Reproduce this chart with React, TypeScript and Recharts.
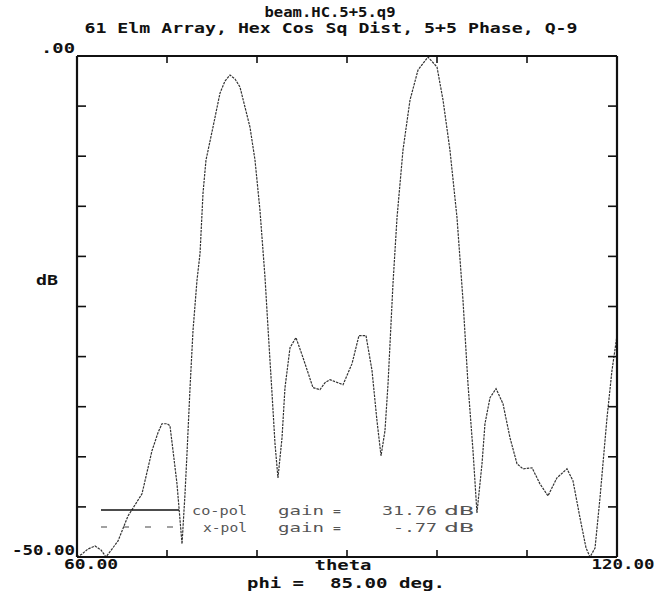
import React from 'react';
import { LineChart, Line, XAxis, YAxis } from 'recharts';

// theta (deg) and normalized co-pol pattern (dB)
const thetaDeg = [
  60.0, 60.56, 61.22, 62.0, 62.67, 63.22, 64.56, 65.67, 67.22, 68.33, 69.0, 69.44, 70.0, 70.33,
  70.67, 71.11, 71.67, 72.0, 72.22, 72.56, 72.89, 73.33, 73.67, 74.0, 74.33, 75.11, 75.89, 76.44,
  77.0, 77.56, 78.11, 79.22, 79.78, 80.33, 80.89, 81.22, 81.67, 82.0, 82.33, 82.78, 83.11, 83.67,
  84.33, 85.11, 86.22, 87.0, 87.56, 88.11, 89.56, 90.56, 91.33, 92.11, 92.78, 93.33, 93.78, 94.22,
  94.56, 95.11, 95.56, 96.22, 97.0, 97.89, 99.0, 100.0, 100.67, 101.44, 102.22, 102.89, 103.44,
  104.0, 104.44, 105.0, 105.33, 105.89, 106.56, 107.33, 108.11, 108.89, 109.56, 110.56, 111.44,
  112.33, 113.33, 114.44, 115.11, 115.89, 116.56, 117.0, 117.56, 118.11, 118.44, 118.89, 119.44, 120.0,
];
const coPolDb = [
  -50, -49.7, -49.2, -48.9, -49.3, -50, -48.4, -45.9, -43.7, -39.4, -37.6, -36.7, -36.7, -36.9,
  -39.4, -42.7, -48.7, -43.7, -39.7, -33.1, -27.4, -22.4, -19.7, -13.7, -10.4, -7.1, -3.7, -2.5,
  -1.9, -2.3, -3.1, -7.1, -10.4, -15.4, -22.1, -27.1, -33.7, -38.7, -42.1, -38.1, -33.1, -29.1,
  -28.1, -30.1, -33.1, -33.3, -32.6, -32.3, -32.8, -30.7, -27.9, -27.9, -31.4, -36.4, -39.9, -37.4,
  -32.7, -22.7, -16.1, -9.4, -4.4, -1.4, -0.1, -1.1, -4.4, -9.4, -16.1, -24.4, -32.7,
  -39.4, -45.6, -40.7, -36.7, -34.1, -33.2, -34.7, -38.1, -40.7, -41.2, -41.1, -42.7,
  -43.9, -42.1, -41.2, -42.4, -46.1, -49.1, -50, -49.1, -44.1, -40.7, -36.1, -31.4, -27.9,
];

const xTicks = [60, 70, 80, 90, 100, 110, 120];
const yTicks = [0, -5, -10, -15, -20, -25, -30, -35, -40, -45, -50];

const data = thetaDeg.map((t, i) => ({ theta: t, co: coPolDb[i] }));

const ink = '#111';
const labelFont = '"DejaVu Sans Mono", monospace';

const BottomTick = (props: any) => {
  const { x, y, payload } = props;
  const v = payload.value;
  if (v === 60 || v === 120) {
    const label = v === 60 ? '60.00' : '120.00';
    const w = v === 60 ? 54 : 63;
    const cx = v === 60 ? x + 14 : x + 6;
    return (
      <text x={cx} y={y + 12} textAnchor="middle" fontFamily={labelFont} fontWeight="bold" fontSize={14}
        fill={ink} textLength={w} lengthAdjust="spacingAndGlyphs">{label}</text>
    );
  }
  return <line x1={x} y1={y} x2={x} y2={y - 7} stroke={ink} strokeWidth={1.6} />;
};

const TopTick = (props: any) => {
  const { x, y, payload } = props;
  if (payload.value === 60 || payload.value === 120) return null;
  return <line x1={x} y1={y} x2={x} y2={y + 7} stroke={ink} strokeWidth={1.6} />;
};

const LeftTick = (props: any) => {
  const { x, y, payload } = props;
  const v = payload.value;
  if (v === 0) {
    return (
      <text x={x - 2} y={y - 3} textAnchor="end" fontFamily={labelFont} fontWeight="bold" fontSize={14}
        fill={ink} textLength={34} lengthAdjust="spacingAndGlyphs">.00</text>
    );
  }
  if (v === -50) {
    return (
      <text x={x - 2} y={y - 2} textAnchor="end" fontFamily={labelFont} fontWeight="bold" fontSize={14}
        fill={ink} textLength={63} lengthAdjust="spacingAndGlyphs">-50.00</text>
    );
  }
  return <line x1={x} y1={y} x2={x + 9} y2={y} stroke={ink} strokeWidth={1.6} />;
};

const RightTick = (props: any) => {
  const { x, y, payload } = props;
  if (payload.value === 0 || payload.value === -50) return null;
  return <line x1={x} y1={y} x2={x - 9} y2={y} stroke={ink} strokeWidth={1.6} />;
};

export default function App() {
  return (
    <div style={{ position: 'absolute', left: 0, top: 0, width: 657, height: 597, background: '#fff' }}>
      <LineChart width={657} height={597} data={data} margin={{ top: 55, right: 39, bottom: 39, left: 76 }}>
        <XAxis xAxisId="b" dataKey="theta" type="number" domain={[60, 120]} ticks={xTicks} orientation="bottom"
          height={1} tickSize={0} tickMargin={0} interval={0} tick={<BottomTick />}
          axisLine={{ stroke: ink, strokeWidth: 2.2 }} tickLine={false} allowDataOverflow />
        <XAxis xAxisId="t" dataKey="theta" type="number" domain={[60, 120]} ticks={xTicks} orientation="top"
          height={1} tickSize={0} tickMargin={0} interval={0} tick={<TopTick />}
          axisLine={{ stroke: ink, strokeWidth: 2.2 }} tickLine={false} allowDataOverflow />
        <YAxis yAxisId="l" type="number" domain={[-50, 0]} ticks={yTicks} orientation="left" width={1}
          tickSize={0} tickMargin={0} interval={0} tick={<LeftTick />}
          axisLine={{ stroke: ink, strokeWidth: 2.2 }} tickLine={false} allowDataOverflow />
        <YAxis yAxisId="r" type="number" domain={[-50, 0]} ticks={yTicks} orientation="right" width={1}
          tickSize={0} tickMargin={0} interval={0} tick={<RightTick />}
          axisLine={{ stroke: ink, strokeWidth: 2.2 }} tickLine={false} allowDataOverflow />
        <Line xAxisId="t" yAxisId="r" dataKey="co" stroke="none" dot={false} isAnimationActive={false} legendType="none" />
        <Line xAxisId="b" yAxisId="l" type="linear" dataKey="co" stroke="#333" strokeWidth={1.2}
          strokeDasharray="2.5 1" dot={false} isAnimationActive={false} />
      </LineChart>
      <svg width={657} height={597} style={{ position: 'absolute', left: 0, top: 0, pointerEvents: 'none' }}>
        <g fontFamily={labelFont} fill={ink}>
          <text x={330} y={17} textAnchor="middle" fontSize={14} fontWeight="600" textLength={131} lengthAdjust="spacingAndGlyphs">beam.HC.5+5.q9</text>
          <text x={331} y={33} textAnchor="middle" fontSize={14} fontWeight="600" textLength={493} lengthAdjust="spacingAndGlyphs">61 Elm Array, Hex Cos Sq Dist, 5+5 Phase, Q-9</text>
          <text x={47} y={285} textAnchor="middle" fontSize={14} fontWeight="600" textLength={22} lengthAdjust="spacingAndGlyphs">dB</text>
          <text x={343} y={570} textAnchor="middle" fontSize={14} fontWeight="bold" textLength={57} lengthAdjust="spacingAndGlyphs">theta</text>
          <text x={247} y={588} fontSize={14} fontWeight="bold" textLength={57} lengthAdjust="spacingAndGlyphs">phi =</text>
          <text x={330} y={588} fontSize={14} fontWeight="bold" textLength={115} lengthAdjust="spacingAndGlyphs">85.00 deg.</text>
        </g>
        <line x1={101} y1={510} x2={179} y2={510} stroke={ink} strokeWidth={1.6} />
        <line x1={101} y1={527} x2={179} y2={527} stroke="#444" strokeWidth={1.2} strokeDasharray="6 16" />
        <g fontFamily={labelFont} fill="#555" fontSize={13}>
          <text x={192} y={515} textLength={55} lengthAdjust="spacingAndGlyphs">co-pol</text>
          <text x={278} y={515} textLength={46} lengthAdjust="spacingAndGlyphs">gain</text>
          <text x={333} y={515}>=</text>
          <text x={382} y={515} textLength={55} lengthAdjust="spacingAndGlyphs">31.76</text>
          <text x={444} y={515} textLength={30} lengthAdjust="spacingAndGlyphs">dB</text>
          <text x={203} y={532} textLength={44} lengthAdjust="spacingAndGlyphs">x-pol</text>
          <text x={278} y={532} textLength={46} lengthAdjust="spacingAndGlyphs">gain</text>
          <text x={333} y={532}>=</text>
          <text x={393} y={532} textLength={44} lengthAdjust="spacingAndGlyphs">-.77</text>
          <text x={444} y={532} textLength={30} lengthAdjust="spacingAndGlyphs">dB</text>
        </g>
      </svg>
    </div>
  );
}
